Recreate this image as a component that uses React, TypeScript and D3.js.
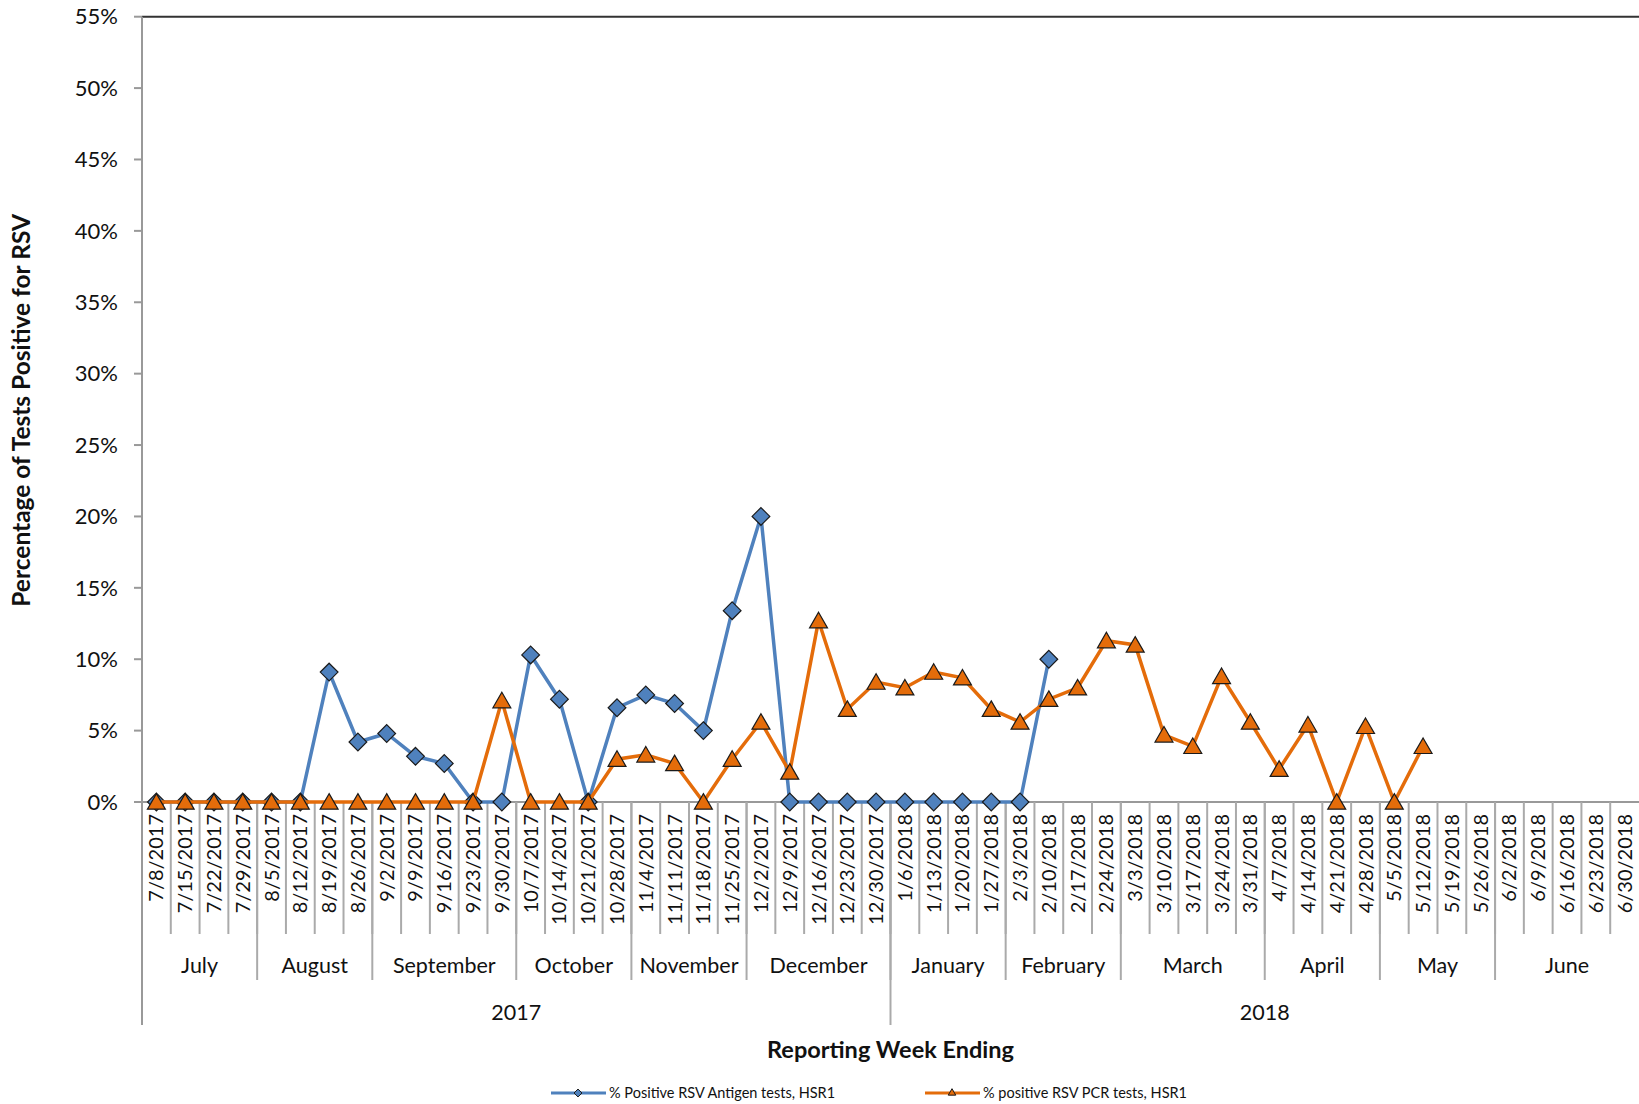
import React from "react";
import * as d3 from "d3";

const weeks = ["7/8/2017","7/15/2017","7/22/2017","7/29/2017","8/5/2017","8/12/2017","8/19/2017","8/26/2017","9/2/2017","9/9/2017","9/16/2017","9/23/2017","9/30/2017","10/7/2017","10/14/2017","10/21/2017","10/28/2017","11/4/2017","11/11/2017","11/18/2017","11/25/2017","12/2/2017","12/9/2017","12/16/2017","12/23/2017","12/30/2017","1/6/2018","1/13/2018","1/20/2018","1/27/2018","2/3/2018","2/10/2018","2/17/2018","2/24/2018","3/3/2018","3/10/2018","3/17/2018","3/24/2018","3/31/2018","4/7/2018","4/14/2018","4/21/2018","4/28/2018","5/5/2018","5/12/2018","5/19/2018","5/26/2018","6/2/2018","6/9/2018","6/16/2018","6/23/2018","6/30/2018"];
const months = [["July",4],["August",4],["September",5],["October",4],["November",4],["December",5],["January",4],["February",4],["March",5],["April",4],["May",4],["June",5]] as [string, number][];
const years = [["2017",26],["2018",26]] as [string, number][];
const antigen: (number|null)[] = [0,0,0,0,0,0,9.1,4.2,4.8,3.2,2.7,0,0,10.3,7.2,0,6.6,7.5,6.9,5.0,13.4,20,0,0,0,0,0,0,0,0,0,10.0];
const pcr: (number|null)[] = [0,0,0,0,0,0,0,0,0,0,0,0,7.1,0,0,0,3.0,3.3,2.7,0,3.0,5.6,2.1,12.7,6.5,8.4,8.0,9.1,8.7,6.5,5.6,7.2,8.0,11.3,11.0,4.7,3.9,8.8,5.6,2.3,5.4,0,5.3,0,3.9];
const yTicks = [0,5,10,15,20,25,30,35,40,45,50,55];

const L = 142, R = 1639, T = 16.7, B = 802;
const FONT = "Lato, 'Open Sans', sans-serif";
const BLUE = "#4F81BD", ORANGE = "#E46C0A";

export default function App() {
  const x = d3.scaleBand<number>().domain(weeks.map((_, i) => i)).range([L, R]);
  const bw = x.bandwidth();
  const cx = (i: number) => (x(i) as number) + bw / 2;
  const y = d3.scaleLinear().domain([0, 55]).range([B, T]);
  const line = d3.line<number|null>().defined(d => d != null).x((_, i) => cx(i)).y(d => y(d as number));
  const diamond = d3.symbol().type(d3.symbolDiamond2).size(200)();
  const tri = d3.symbol().type(d3.symbolTriangle2).size(230)();
  let acc = 0;
  const monthB = months.map(([m, n]) => { const s = acc; acc += n; return { m, s, e: acc }; });
  acc = 0;
  const yearB = years.map(([m, n]) => { const s = acc; acc += n; return { m, s, e: acc }; });
  const bx = (k: number) => L + k * bw;
  return (
    <svg width={1639} height={1104} style={{ position: "absolute", left: 0, top: 0, background: "#fff" }} fontFamily={FONT}>
      <line x1={L} x2={R} y1={T} y2={T} stroke="#333" strokeWidth={2} />
      <line x1={L} x2={L} y1={T} y2={1025} stroke="#999" strokeWidth={2} />
      {yTicks.map(t => (
        <g key={t}>
          <line x1={L - 8} x2={L} y1={y(t)} y2={y(t)} stroke="#999" strokeWidth={2} />
          <text x={L - 24} y={y(t)} dy="0.35em" textAnchor="end" fontSize={22} fill="#111">{t}%</text>
        </g>
      ))}
      <line x1={L} x2={R} y1={B} y2={B} stroke="#999" strokeWidth={2} />
      {weeks.map((w, i) => (
        <g key={w}>
          {i > 0 && <line x1={bx(i)} x2={bx(i)} y1={B} y2={934} stroke="#aaa" strokeWidth={2} />}
          <text transform={`translate(${cx(i) + 7},${B + 12}) rotate(-90)`} textAnchor="end" fontSize={20} fill="#111">{w}</text>
        </g>
      ))}
      {monthB.map(({ m, s, e }) => (
        <g key={m}>
          {s > 0 && <line x1={bx(s)} x2={bx(s)} y1={B} y2={980} stroke="#aaa" strokeWidth={2} />}
          <text x={(bx(s) + bx(e)) / 2} y={973} textAnchor="middle" fontSize={21.5} fill="#111">{m}</text>
        </g>
      ))}
      {yearB.map(({ m, s, e }) => (
        <g key={m}>
          {s > 0 && <line x1={bx(s)} x2={bx(s)} y1={B} y2={1025} stroke="#aaa" strokeWidth={2} />}
          <text x={(bx(s) + bx(e)) / 2} y={1020} textAnchor="middle" fontSize={21.5} fill="#111">{m}</text>
        </g>
      ))}
      <text x={(L + R) / 2} y={1058} textAnchor="middle" fontSize={23.5} fontWeight="bold" fill="#111">Reporting Week Ending</text>
      <text transform={`translate(30,${(T + B) / 2 + 1}) rotate(-90)`} textAnchor="middle" fontSize={24.5} fontWeight="bold" fill="#111">Percentage of Tests Positive for RSV</text>
      <path d={line(antigen) || ""} fill="none" stroke={BLUE} strokeWidth={3.5} />
      {antigen.map((v, i) => v == null ? null : (
        <path key={i} d={diamond} transform={`translate(${cx(i)},${y(v)})`} fill={BLUE} stroke="#1a1a1a" strokeWidth={1.2} />
      ))}
      <path d={line(pcr) || ""} fill="none" stroke={ORANGE} strokeWidth={3.5} />
      {pcr.map((v, i) => v == null ? null : (
        <path key={i} d={tri} transform={`translate(${cx(i)},${y(v) + 2})`} fill={ORANGE} stroke="#1a1a1a" strokeWidth={1.2} />
      ))}
      <g>
        <line x1={551} x2={606} y1={1093} y2={1093} stroke={BLUE} strokeWidth={3} />
        <path d={d3.symbol().type(d3.symbolDiamond2).size(40)() || ""} transform="translate(578,1093)" fill={BLUE} stroke="#1a1a1a" strokeWidth={1} />
        <text x={609} y={1093} dy="0.35em" fontSize={14.5} fill="#111">% Positive RSV Antigen tests, HSR1</text>
        <line x1={925} x2={980} y1={1093} y2={1093} stroke={ORANGE} strokeWidth={3} />
        <path d={d3.symbol().type(d3.symbolTriangle2).size(40)() || ""} transform="translate(952,1093)" fill={ORANGE} stroke="#1a1a1a" strokeWidth={1} />
        <text x={983} y={1093} dy="0.35em" fontSize={14.5} fill="#111">% positive RSV PCR tests, HSR1</text>
      </g>
    </svg>
  );
}
